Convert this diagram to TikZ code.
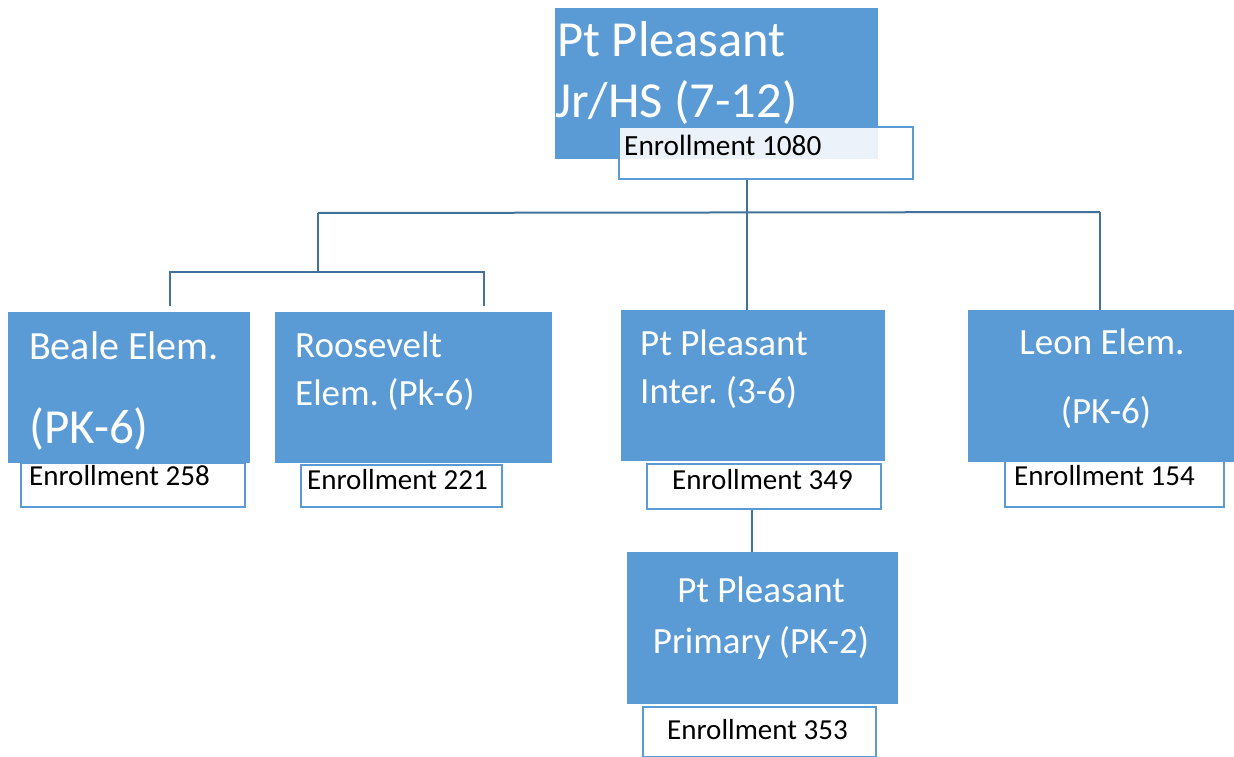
\documentclass[tikz,border=0pt]{standalone}
\usepackage{fontspec}
\setmainfont{Carlito}
\usetikzlibrary{calc,positioning}
\definecolor{boxblue}{HTML}{5B9BD5}
\definecolor{linkblue}{HTML}{41719C}
\frenchspacing

\begin{document}
\begin{tikzpicture}[x=1pt, y=-1pt,
    school/.style={rectangle, fill=boxblue, draw=boxblue, line width=0.8pt, anchor=north west, inner sep=0pt},
    enroll/.style={rectangle, fill=white, draw=boxblue, line width=2pt, anchor=north west, inner sep=0pt},
    title/.style={text=white, anchor=base west, inner sep=0pt, font=\fontsize{37}{44}\selectfont},
    count/.style={text=black, anchor=base west, inner sep=0pt, font=\fontsize{29}{34}\selectfont},
    link/.style={draw=linkblue, line width=2pt}]
    \useasboundingbox (0,0) rectangle (1234,757);
    \clip (0,0) rectangle (1234,757);

    \node (jrhs) [school, minimum width=322pt, minimum height=150pt] at (555,8) {};
    \node (jrhs-l1) [title, font=\fontsize{50.5}{60}\selectfont] at (557,57) {Pt Pleasant};
    \node (jrhs-l2) [title, font=\fontsize{50.5}{60}\selectfont] at (555,118) {Jr/HS (7-12)};
    \node (jrhs-enr) [enroll, fill opacity=0.88, minimum width=294pt, minimum height=52pt] at (618,126) {};
    \node (jrhs-count) [count, font=\fontsize{29.3}{34}\selectfont] at (624,156) {Enrollment 1080};

    \node (beale-enr) [enroll, minimum width=224pt, minimum height=44pt] at (20,462) {};
    \node (roosevelt-enr) [enroll, minimum width=201pt, minimum height=42pt] at (300,464) {};
    \node (inter-enr) [enroll, minimum width=234pt, minimum height=45pt] at (646,463) {};
    \node (leon-enr) [enroll, minimum width=219pt, minimum height=48pt] at (1004,458) {};
    \node (primary-enr) [enroll, minimum width=233pt, minimum height=50pt] at (642,706) {};

    \node (beale) [school, minimum width=241pt, minimum height=150pt] at (8,312) {};
    \node (roosevelt) [school, minimum width=276pt, minimum height=150pt] at (275,312) {};
    \node (inter) [school, minimum width=263pt, minimum height=150pt] at (621,310) {};
    \node (leon) [school, minimum width=266pt, minimum height=151pt] at (968,310) {};
    \node (primary) [school, minimum width=270pt, minimum height=151pt] at (627,552) {};

    \node (beale-l1) [title, font=\fontsize{40}{48}\selectfont] at (29,359) {Beale Elem.};
    \node (beale-l2) [title, font=\fontsize{49}{58}\selectfont] at (29,443) {(PK-6)};
    \node (roosevelt-l1) [title] at (295,357) {Roosevelt};
    \node (roosevelt-l2) [title] at (295,405) {Elem. (Pk-6)};
    \node (inter-l1) [title] at (640,355) {Pt Pleasant};
    \node (inter-l2) [title] at (640,403) {Inter. (3-6)};
    \node (leon-l1) [title, anchor=base] at (1102,354) {Leon Elem.};
    \node (leon-l2) [title, anchor=base] at (1106,423) {(PK-6)};
    \node (primary-l1) [title, anchor=base] at (761,602) {Pt Pleasant};
    \node (primary-l2) [title, anchor=base] at (761,653) {Primary (PK-2)};

    \node (beale-count) [count] at (29,485) {Enrollment 258};
    \node (roosevelt-count) [count] at (307,489) {Enrollment 221};
    \node (inter-count) [count] at (672,489) {Enrollment 349};
    \node (leon-count) [count] at (1014,485) {Enrollment 154};
    \node (primary-count) [count] at (667,739) {Enrollment 353};

    \coordinate (hub) at (747,213);
    \coordinate (west) at (318,213);
    \coordinate (east) at (1100,212);
    \coordinate (westdrop) at (318,272);
    \coordinate (bealetop) at (170,306);
    \coordinate (roosetop) at (484,306);
    \coordinate (stem) at (752,530);

    \draw [link] (jrhs-enr.south -| hub) -- (inter.north -| hub);
    \draw [link] (west) -- (east);
    \draw [link] (east) -- (leon.north -| east);
    \draw [link] (west) -- (westdrop);
    \draw [link] (bealetop) |- (westdrop) -| (roosetop);
    \draw [link] (inter-enr.south -| stem) -- (primary.north -| stem);
\end{tikzpicture}
\end{document}
